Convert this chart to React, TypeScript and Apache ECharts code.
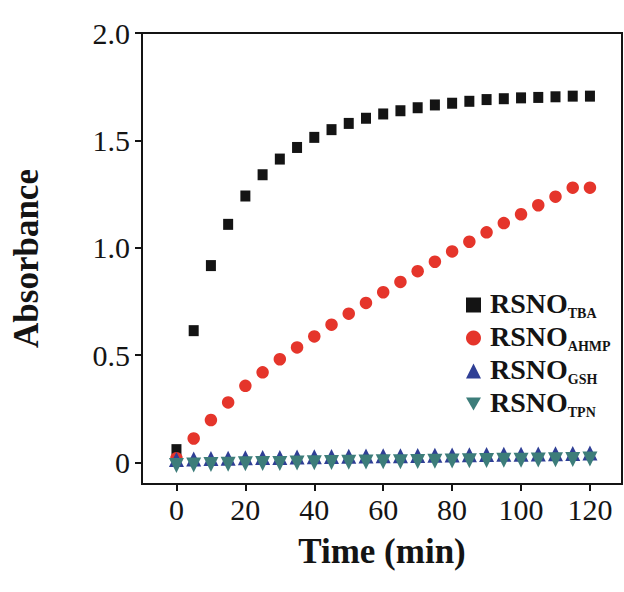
import React, { useEffect, useRef } from "react";
import * as echarts from "echarts";

const times = [0, 5, 10, 15, 20, 25, 30, 35, 40, 45, 50, 55, 60, 65, 70, 75, 80, 85, 90, 95, 100, 105, 110, 115, 120];
const tba = [0.06, 0.614, 0.917, 1.109, 1.241, 1.34, 1.413, 1.467, 1.514, 1.55, 1.579, 1.603, 1.623, 1.638, 1.652, 1.665, 1.673, 1.682, 1.69, 1.694, 1.698, 1.7, 1.703, 1.706, 1.706];
const ahmp = [0.02, 0.112, 0.198, 0.28, 0.357, 0.42, 0.481, 0.536, 0.587, 0.642, 0.693, 0.743, 0.793, 0.841, 0.891, 0.935, 0.983, 1.028, 1.072, 1.115, 1.156, 1.198, 1.238, 1.28, 1.28];
const gsh = [0.0, 0.003, 0.005, 0.006, 0.008, 0.009, 0.01, 0.012, 0.013, 0.014, 0.015, 0.016, 0.017, 0.018, 0.019, 0.02, 0.021, 0.022, 0.023, 0.024, 0.025, 0.026, 0.027, 0.028, 0.03];
const tpn = [0.0, 0.003, 0.005, 0.006, 0.008, 0.009, 0.01, 0.012, 0.013, 0.014, 0.015, 0.016, 0.017, 0.018, 0.019, 0.02, 0.021, 0.022, 0.023, 0.024, 0.025, 0.026, 0.027, 0.028, 0.03];
const xTicks = [0, 20, 40, 60, 80, 100, 120];
const yTicks = [0, 0.5, 1.0, 1.5, 2.0];
const seriesNames = ["TBA", "AHMP", "GSH", "TPN"];

const FONT = '"Times New Roman", "Liberation Serif", serif';
const INK = "#141414";

export default function App() {
  const ref = useRef<HTMLDivElement>(null);
  useEffect(() => {
    if (!ref.current) return;
    const chart = echarts.init(ref.current, undefined, { renderer: "svg" });
    const pts = (ys: number[]) => times.map((t, i) => [t, ys[i]]);
    chart.setOption({
      animation: false,
      backgroundColor: "#ffffff",
      grid: {
        left: 142,
        right: 2,
        top: 33,
        bottom: 108,
        show: true,
        borderColor: INK,
        borderWidth: 2,
        backgroundColor: "transparent",
      },
      xAxis: {
        type: "value",
        min: -10,
        max: 129.3,
        name: "Time (min)",
        nameLocation: "middle",
        nameGap: 50,
        nameTextStyle: { fontFamily: FONT, fontSize: 35, fontWeight: "bold", color: INK },
        axisLine: { show: true, onZero: false, lineStyle: { color: INK, width: 2 } },
        axisTick: { show: true, inside: false, length: 7, lineStyle: { color: INK, width: 2 }, customValues: xTicks },
        axisLabel: { fontFamily: FONT, fontSize: 30, color: INK, margin: 10, customValues: xTicks },
        splitLine: { show: false },
      },
      yAxis: {
        type: "value",
        min: -0.1,
        max: 2.0,
        name: "Absorbance",
        nameLocation: "middle",
        nameGap: 98,
        nameTextStyle: { fontFamily: FONT, fontSize: 35, fontWeight: "bold", color: INK },
        axisLine: { show: true, onZero: false, lineStyle: { color: INK, width: 2 } },
        axisTick: { show: true, inside: false, length: 7, lineStyle: { color: INK, width: 2 }, customValues: yTicks },
        axisLabel: {
          fontFamily: FONT,
          fontSize: 30,
          color: INK,
          margin: 12,
          customValues: yTicks,
          formatter: (v: number) => (v === 0 ? "0" : v.toFixed(1)),
        },
        splitLine: { show: false },
      },
      legend: {
        orient: "vertical",
        left: 461,
        top: 284,
        itemWidth: 15,
        itemHeight: 15,
        itemGap: 1,
        data: [
          { name: "TBA", icon: "rect" },
          { name: "AHMP", icon: "circle" },
          { name: "GSH", icon: "triangle" },
          { name: "TPN", icon: "path://M0,0L10,0L5,8.66Z" },
        ],
        formatter: (name: string) => `{a|RSNO}{b|${name}}`,
        textStyle: {
          rich: {
            a: { fontFamily: FONT, fontSize: 28, fontWeight: "bold", color: INK, lineHeight: 30, padding: [0, 0, 4, 4] },
            b: { fontFamily: FONT, fontSize: 14, fontWeight: "bold", color: INK, lineHeight: 14, verticalAlign: "bottom" },
          },
        },
      },
      series: [
        { name: seriesNames[0], type: "scatter", data: pts(tba), symbol: "rect", symbolSize: [10, 11], itemStyle: { color: INK, opacity: 1 } },
        { name: seriesNames[1], type: "scatter", data: pts(ahmp), symbol: "circle", symbolSize: 12.5, itemStyle: { color: "#e5352b", opacity: 1 } },
        { name: seriesNames[2], type: "scatter", data: pts(gsh), symbol: "triangle", symbolSize: [15, 15], symbolOffset: [0, -3], itemStyle: { color: "#2f3f95", opacity: 1 } },
        { name: seriesNames[3], type: "scatter", data: pts(tpn), symbol: "triangle", symbolRotate: 180, symbolSize: [15, 15], symbolOffset: [0, 3], itemStyle: { color: "#3d7d7a", opacity: 1 } },
      ],
    });
    return () => chart.dispose();
  }, []);
  return (
    <div
      ref={ref}
      style={{ position: "absolute", left: 0, top: 0, width: 624, height: 592, background: "#fff" }}
    />
  );
}
